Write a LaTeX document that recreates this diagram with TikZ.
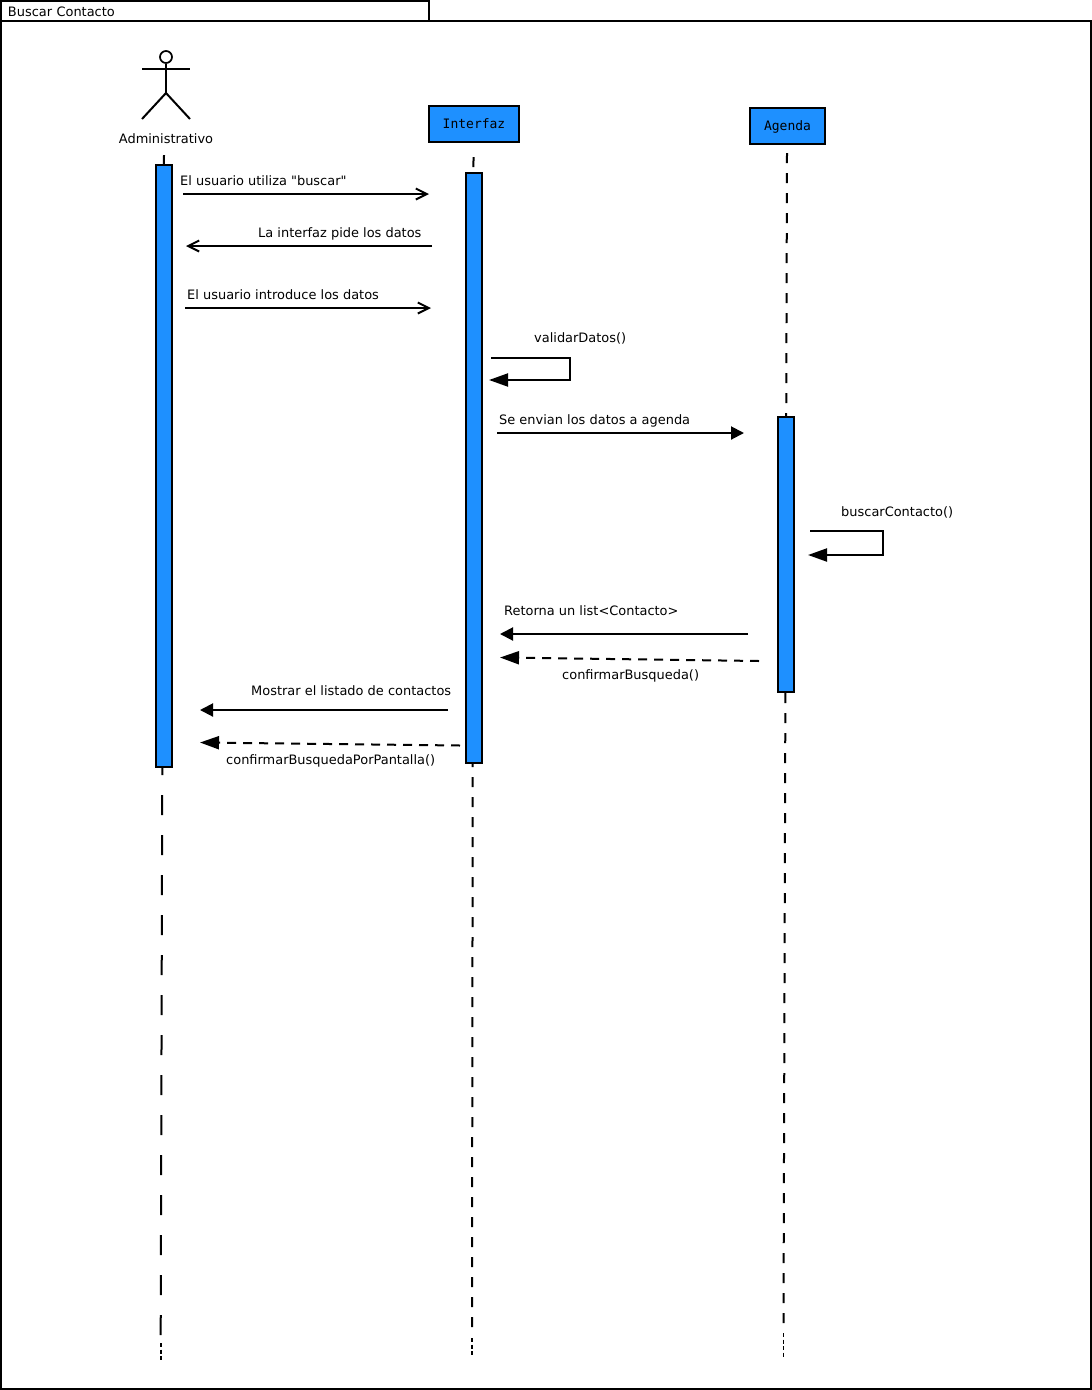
\documentclass[tikz,border=0pt]{standalone}
\usepackage{fontspec}
\newfontfamily\diagfont{DejaVu Sans}
\setmonofont{DejaVu Sans Mono}
\usepackage{xcolor}
\usepackage{tikz}
\usetikzlibrary{arrows.meta}
\definecolor{barblue}{HTML}{1E90FF}
\begin{document}
\begin{tikzpicture}[x=1pt,y=-1pt,line width=2pt,font=\diagfont\fontsize{12.95}{16}\selectfont,
		open/.style={-{Straight Barb[length=11pt,width=11pt]}},
		sync/.style={-{Triangle[length=13pt,width=13pt]}},
		long/.style={-{Triangle[length=19pt,width=13pt]}},
		back/.style={long,dash pattern=on 9pt off 7pt}]
	\tikzstyle{frame}=[draw, rectangle, inner sep=0pt]
	\tikzstyle{tabbox}=[frame, minimum height=20pt, text width=414pt, inner xsep=7pt, align=left]
	\tikzstyle{object}=[frame, fill=barblue, font=\fontsize{13}{16}\ttfamily]
	\tikzstyle{bar}=[frame, fill=barblue, minimum width=16pt]
	\tikzstyle{msg}=[anchor=west, inner sep=0pt, text height=10pt, text depth=3pt]
	\tikzstyle{slow}=[dash pattern=on 20pt off 20pt]
	\tikzstyle{fast}=[dash pattern=on 10pt off 10pt]
	\tikzstyle{tail}=[line width=1.7pt, dash pattern=on 4pt off 2.5pt]
	\useasboundingbox (0,0) rectangle (1092,1390);

	\node[frame, minimum width=1090pt, minimum height=1368pt] (marco) at (546,705) {};
	\node[tabbox] (titulo) at (215,11) {\raisebox{-.8pt}[\height][\depth]{Buscar Contacto}};

	% actor
	\node[draw, circle, minimum size=12pt, inner sep=0pt, line width=1.7pt] (cabeza) at (166,57) {};
	\coordinate (cuello) at (166,93);
	\coordinate (brazoi) at (142,69);
	\coordinate (brazod) at (190,69);
	\coordinate (pieizq) at (142,119);
	\coordinate (pieder) at (190,119);
	\node (administrativo) at (166,139) {Administrativo};
	\path
		(cabeza) edge (cuello)
		(brazoi) edge (brazod)
		(cuello) edge (pieizq)
		(cuello) edge (pieder);

	\node[object, minimum width=90pt, minimum height=36pt] (interfaz) at (474,124) {Interfaz};
	\node[object, minimum width=75pt, minimum height=36pt] (agenda) at (787.5,126) {\raisebox{-1pt}[\height][\depth]{Agenda}};

	% lifelines
	\coordinate (vida1a) at (164,155);
	\coordinate (vida1b) at (160.7,1335);
	\coordinate (vida1c) at (160.7,1343);
	\coordinate (vida1d) at (160.7,1361);
	\coordinate (vida2a) at (473.5,157);
	\coordinate (vida2b) at (472,1327);
	\coordinate (vida2c) at (472,1338);
	\coordinate (vida2d) at (472,1356);
	\coordinate (vida3a) at (787,153);
	\coordinate (vida3b) at (783.5,1323);
	\coordinate (vida3c) at (783.5,1333);
	\coordinate (vida3d) at (783.5,1357);
	\path
		(vida1a) edge[slow] (vida1b)
		(vida1c) edge[tail] (vida1d)
		(vida2a) edge[fast] (vida2b)
		(vida2c) edge[tail] (vida2d)
		(vida3a) edge[fast] (vida3b)
		(vida3c) edge[tail] (vida3d);

	\node[bar, minimum height=602pt] (bar1) at (164,466) {};
	\node[bar, minimum height=590pt] (bar2) at (474,468) {};
	\node[bar, minimum height=275pt] (bar3) at (786,554.5) {};

	% messages
	\coordinate (m1a) at (183,194);
	\coordinate (m1b) at (429,194);
	\coordinate (m2a) at (432,246);
	\coordinate (m2b) at (186,246);
	\coordinate (m3a) at (185,308);
	\coordinate (m3b) at (431,308);
	\coordinate (m4a) at (491,358);
	\coordinate (m4b) at (570,380);
	\coordinate (m4c) at (489,380);
	\coordinate (m5a) at (497,433);
	\coordinate (m5b) at (744,433);
	\coordinate (m6a) at (810,531);
	\coordinate (m6b) at (883,555);
	\coordinate (m6c) at (808,555);
	\coordinate (m7a) at (748,634);
	\coordinate (m7b) at (500,634);
	\coordinate (m8a) at (759,661);
	\coordinate (m8b) at (500,657.5);
	\coordinate (m9a) at (448,710);
	\coordinate (m9b) at (200,710);
	\coordinate (m10a) at (460,745.5);
	\coordinate (m10b) at (200,742.5);
	\path
		(m1a) edge[open] (m1b)
		(m2a) edge[open] (m2b)
		(m3a) edge[open] (m3b)
		(m5a) edge[sync] (m5b)
		(m7a) edge[sync] (m7b)
		(m8a) edge[back] (m8b)
		(m9a) edge[sync] (m9b)
		(m10a) edge[back] (m10b);
	\draw[long] (m4a) -| (m4b) -- (m4c);
	\draw[long] (m6a) -| (m6b) -- (m6c);

	\node[msg] (t1) at (179.2,182) {El usuario utiliza "buscar"};
	\node[msg] (t2) at (257.2,234) {La interfaz pide los datos};
	\node[msg] (t3) at (186.2,296) {El usuario introduce los datos};
	\node[msg] (t4) at (533.2,339) {validarDatos()};
	\node[msg] (t5) at (498.2,421) {Se envian los datos a agenda};
	\node[msg] (t6) at (840.2,513) {buscarContacto()};
	\node[msg] (t7) at (503.2,612) {Retorna un list<Contacto>};
	\node[msg] (t8) at (561.2,676) {confirmarBusqueda()};
	\node[msg] (t9) at (250.2,692) {Mostrar el listado de contactos};
	\node[msg] (t10) at (225.2,761) {confirmarBusquedaPorPantalla()};
\end{tikzpicture}
\end{document}
